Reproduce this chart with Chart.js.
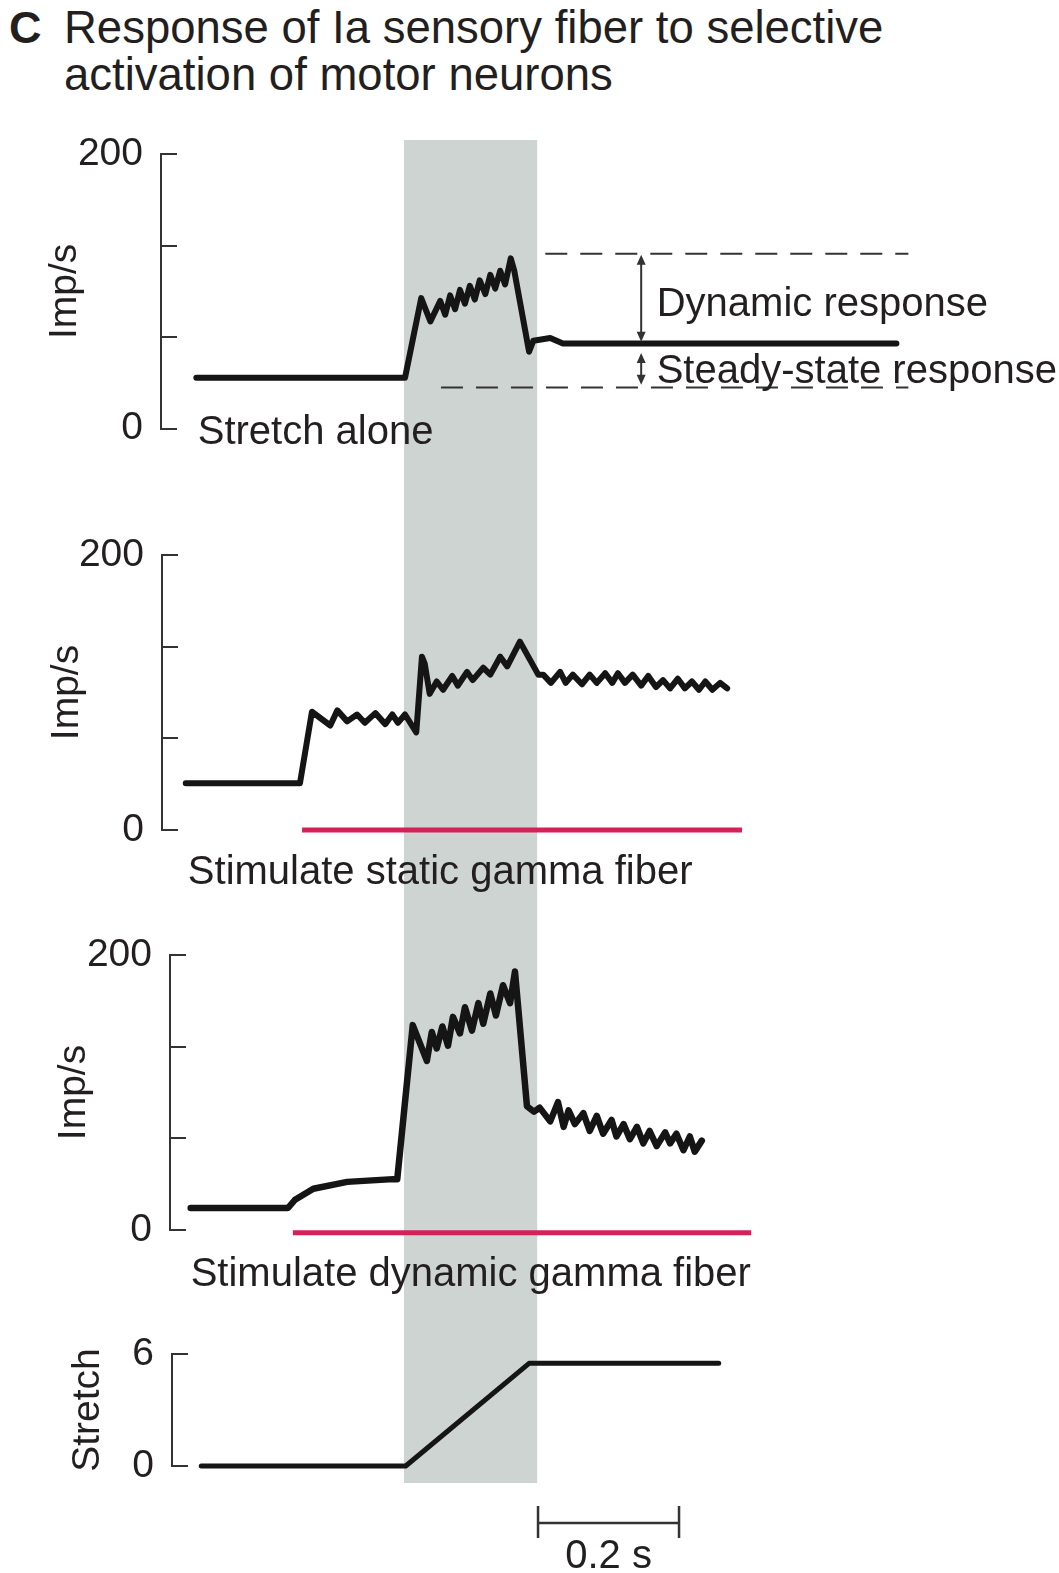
<!DOCTYPE html>
<html>
<head>
<meta charset="utf-8">
<title>Response of Ia sensory fiber</title>
<script src="https://cdn.jsdelivr.net/npm/chart.js@4.4.1/dist/chart.umd.min.js"></script>
<style>
  html, body { margin: 0; padding: 0; background: #fff; }
  body { width: 1059px; height: 1573px; position: relative; overflow: hidden;
         font-family: "Liberation Sans", Arial, sans-serif; color: #231f20; }
  .letter { position: absolute; left: 9px; top: 4px; font-size: 45px; line-height: 47px; font-weight: bold; }
  .title { position: absolute; left: 64px; top: 4px; font-size: 45.5px; line-height: 47px; white-space: nowrap; }
  canvas { position: absolute; left: 0; }
</style>
</head>
<body>
<div class="letter">C</div>
<div class="title">Response of Ia sensory fiber to selective<br>activation of motor neurons</div>

<canvas id="p1" width="1059" height="360" style="top:110px"></canvas>
<canvas id="p2" width="1059" height="430" style="top:470px"></canvas>
<canvas id="p3" width="1059" height="400" style="top:900px"></canvas>
<canvas id="p4" width="1059" height="273" style="top:1300px"></canvas>

<script>
// time in ms (0 = start of the stretch ramp), firing rate in imp/s
const stretchAloneT = [-296, 0, 23, 36, 50, 57, 64, 71, 78, 85, 92, 99, 106, 114, 121, 128, 135, 142, 150, 155, 176, 182, 206, 224, 697];
const stretchAloneV = [37, 37, 95, 78, 93, 83, 97, 87, 101, 91, 104, 94, 108, 98, 112, 102, 115, 105, 124, 115, 56, 64, 66, 62, 62];

const staticT = [-311, -149, -132, -106, -96, -82, -68, -57, -42, -28, -18, -10, 0, 16, 24, 28, 35, 45, 54, 67,
                 75, 88, 96, 111, 121, 135, 145, 163, 189, 196, 207, 220, 228, 238, 251, 262, 272, 284, 294, 302,
                 312, 323, 335, 345, 356, 366, 376, 387, 397, 407, 417, 426, 436, 447, 457];
const staticV = [34, 34, 86, 76, 87, 79, 84, 78, 85, 77, 84, 78, 84, 71, 126, 121, 99, 108, 102, 112,
                 105, 115, 109, 118, 113, 126, 119, 137, 113, 113, 107, 115, 107, 113, 106, 113, 107, 114, 107, 114,
                 107, 113, 105, 112, 104, 109, 103, 110, 103, 108, 102, 108, 102, 107, 103];

const dynamicT = [-304, -166, -156, -130, -82, -17, -11, 11, 31, 38, 45, 53, 61, 68, 78, 85, 95, 104, 111, 121,
                  129, 139, 149, 156, 160, 173, 183, 191, 206, 217, 225, 232, 241, 253, 262, 272, 281, 293, 300, 310,
                  319, 329, 338, 347, 357, 369, 376, 385, 395, 404, 411, 421];
const dynamicV = [16, 16, 22, 30, 35, 37, 37, 149, 123, 144, 132, 148, 134, 155, 143, 162, 145, 165, 150, 172,
                  156, 178, 165, 188, 165, 90, 86, 89, 79, 93, 75, 87, 77, 85, 72, 83, 70, 80, 68, 77,
                  66, 75, 63, 72, 61, 71, 63, 70, 58, 68, 57, 65];

// stretch (mm)
const stretchT = [-289, 1, 176, 445];
const stretchV = [0, 0, 5.5, 5.5];

// gamma fiber stimulation periods
const staticStimT = [-146, 478];
const staticStimV = [0, 0];
const dynamicStimT = [-159, 491];
const dynamicStimV = [-2, -2];

// ramp phase (shaded) and reference levels of the top panel
const rampPhase = [-1.5, 187.5];
const dynamicPeak = 127.3;
const steadyLevel = 61.8;
const restLevel = 30;

const rateTicks = [0, 200 / 3, 400 / 3, 200];
const stretchTicks = [0, 6];
const scaleBarMs = 200;

const INK = '#231f20';
const AXIS = '#333333';
const TRACE = '#151515';
const STIM_RED = 'rgb(212, 33, 88)';
const BAND = '#ced4d1';
const FONT = '"Liberation Sans", Arial, sans-serif';
const PX_PER_MS = 0.705;
const T0_PX = 405;

Chart.defaults.font.family = FONT;
Chart.defaults.color = INK;

function series(ts, vs) {
  return ts.map((t, i) => ({x: t, y: vs[i]}));
}

function trace(ts, vs, width) {
  return {data: series(ts, vs), borderColor: TRACE, borderWidth: width, pointRadius: 0, tension: 0,
          clip: false, borderJoinStyle: 'round', borderCapStyle: 'round'};
}

function stimBar(ts, vs) {
  return {data: series(ts, vs), borderColor: STIM_RED, borderWidth: 5, pointRadius: 0, tension: 0,
          clip: false, borderCapStyle: 'butt'};
}

function label(chart, text, t, v, align) {
  const ctx = chart.ctx;
  ctx.save();
  ctx.font = '40px ' + FONT;
  ctx.fillStyle = INK;
  ctx.textAlign = align || 'left';
  ctx.textBaseline = 'alphabetic';
  ctx.fillText(text, chart.scales.x.getPixelForValue(t), chart.scales.y.getPixelForValue(v));
  ctx.restore();
}

function hline(ctx, chart, v, t0, t1) {
  const {x, y} = chart.scales;
  const py = y.getPixelForValue(v);
  ctx.beginPath();
  ctx.moveTo(x.getPixelForValue(t0), py);
  ctx.lineTo(x.getPixelForValue(t1), py);
  ctx.stroke();
}

function arrow(ctx, px, y1, y2) {
  const h = 10, w = 4.5;
  ctx.beginPath();
  ctx.moveTo(px, y1 + h - 2);
  ctx.lineTo(px, y2 - h + 2);
  ctx.stroke();
  ctx.beginPath();
  ctx.moveTo(px, y1); ctx.lineTo(px - w, y1 + h); ctx.lineTo(px + w, y1 + h); ctx.closePath();
  ctx.moveTo(px, y2); ctx.lineTo(px - w, y2 - h); ctx.lineTo(px + w, y2 - h); ctx.closePath();
  ctx.fill();
}

function makePanel(id, p, datasets, decorate) {
  const padLeft = p.titleX - 23.4;
  const lo = p.ticks[0], hi = p.ticks[p.ticks.length - 1];
  return new Chart(document.getElementById(id), {
    type: 'line',
    data: {datasets: datasets},
    options: {
      responsive: false,
      animation: false,
      events: [],
      layout: {padding: {left: padLeft, right: 0, top: p.areaTop, bottom: p.height - p.areaBottom}},
      plugins: {legend: {display: false}, tooltip: {enabled: false}},
      scales: {
        x: {type: 'linear', display: false,
            min: (p.axisX - T0_PX) / PX_PER_MS, max: (1059 - T0_PX) / PX_PER_MS},
        y: {
          type: 'linear', min: lo, max: hi,
          afterBuildTicks: s => { s.ticks = p.ticks.map(v => ({value: v})); },
          afterFit: s => { s.width = p.axisX - padLeft; },
          grid: {display: false, drawTicks: false},
          border: {display: true, color: AXIS, width: 2},
          ticks: {padding: 18, color: INK, font: {size: 39},
                  callback: v => (v === lo || v === hi) ? String(v) : ''},
          title: {display: true, text: p.label, color: INK, font: {size: 39}, padding: {top: 0, bottom: 0}}
        }
      }
    },
    plugins: [{
      id: 'panelDecor',
      beforeDraw(chart) {
        const x = chart.scales.x, ctx = chart.ctx;
        const x0 = x.getPixelForValue(rampPhase[0]), x1 = x.getPixelForValue(rampPhase[1]);
        ctx.save();
        ctx.fillStyle = BAND;
        ctx.fillRect(x0, p.bandTop, x1 - x0, p.bandBottom - p.bandTop);
        ctx.restore();
      },
      afterDraw(chart) {
        const y = chart.scales.y, ctx = chart.ctx, left = chart.chartArea.left;
        ctx.save();
        ctx.strokeStyle = AXIS;
        ctx.lineWidth = 2;
        y.ticks.forEach(t => {
          const py = Math.round(y.getPixelForValue(t.value));
          ctx.beginPath();
          ctx.moveTo(left - 1, py);
          ctx.lineTo(left + 16, py);
          ctx.stroke();
        });
        ctx.restore();
        if (decorate) decorate(chart);
      }
    }]
  });
}

// top panel: stretch alone, with dynamic / steady-state markers
makePanel('p1',
  {height: 360, areaTop: 44, areaBottom: 319, axisX: 161, titleX: 65, label: 'Imp/s',
   ticks: rateTicks, bandTop: 30, bandBottom: 360},
  [trace(stretchAloneT, stretchAloneV, 6)],
  chart => {
    const ctx = chart.ctx, {x, y} = chart.scales;
    ctx.save();
    ctx.strokeStyle = AXIS;
    ctx.fillStyle = AXIS;
    ctx.lineWidth = 2;
    ctx.setLineDash([22, 13]);
    hline(ctx, chart, dynamicPeak, 199, 714);
    hline(ctx, chart, restLevel, 51, 714);
    ctx.setLineDash([]);
    const ax = x.getPixelForValue(335);
    arrow(ctx, ax, y.getPixelForValue(dynamicPeak) + 1, y.getPixelForValue(steadyLevel) - 2);
    arrow(ctx, ax, y.getPixelForValue(55), y.getPixelForValue(restLevel + 2));
    ctx.restore();
    label(chart, 'Dynamic response', 357, 82);
    label(chart, 'Steady-state response', 357, 33.5);
    label(chart, 'Stretch alone', -294, -11);
  });

makePanel('p2',
  {height: 430, areaTop: 85, areaBottom: 360, axisX: 162, titleX: 67, label: 'Imp/s',
   ticks: rateTicks, bandTop: 0, bandBottom: 430},
  [stimBar(staticStimT, staticStimV), trace(staticT, staticV, 6)],
  chart => label(chart, 'Stimulate static gamma fiber', -308, -39.3));

makePanel('p3',
  {height: 400, areaTop: 55, areaBottom: 330, axisX: 170, titleX: 74, label: 'Imp/s',
   ticks: rateTicks, bandTop: 0, bandBottom: 400},
  [stimBar(dynamicStimT, dynamicStimV), trace(dynamicT, dynamicV, 6.5)],
  chart => label(chart, 'Stimulate dynamic gamma fiber', -304, -40.7));

makePanel('p4',
  {height: 273, areaTop: 54, areaBottom: 166, axisX: 172, titleX: 88, label: 'Stretch',
   ticks: stretchTicks, bandTop: 0, bandBottom: 183},
  [trace(stretchT, stretchV, 5)],
  chart => {
    const ctx = chart.ctx, {x, y} = chart.scales;
    const t0 = 188.7, t1 = t0 + scaleBarMs;
    ctx.save();
    ctx.strokeStyle = AXIS;
    ctx.lineWidth = 2.5;
    const yb = y.getPixelForValue(-3.05);
    ctx.beginPath();
    ctx.moveTo(x.getPixelForValue(t0), yb);
    ctx.lineTo(x.getPixelForValue(t1), yb);
    [t0, t1].forEach(t => {
      ctx.moveTo(x.getPixelForValue(t), y.getPixelForValue(-2.14));
      ctx.lineTo(x.getPixelForValue(t), y.getPixelForValue(-3.86));
    });
    ctx.stroke();
    ctx.restore();
    label(chart, '0.2 s', (t0 + t1) / 2, -5.46, 'center');
  });
</script>
</body>
</html>
